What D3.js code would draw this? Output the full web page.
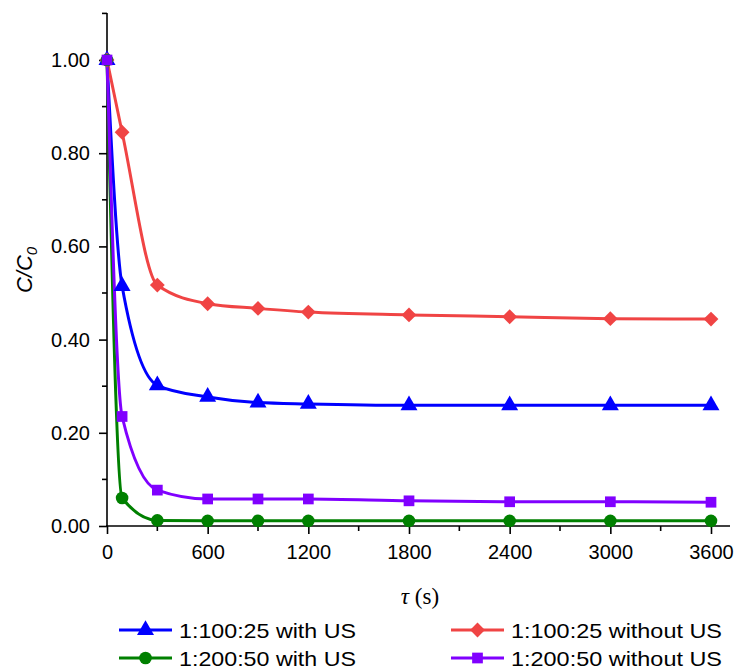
<!DOCTYPE html>
<html><head><meta charset="utf-8">
<script src="https://cdn.jsdelivr.net/npm/d3@7"></script>
<style>body{margin:0;background:#fff;} svg{display:block;}</style>
</head><body>
<svg id="chart" width="739" height="671"></svg>
<script>
const times = [0, 90, 300, 600, 900, 1200, 1800, 2400, 3000, 3600];
const blueWithUS = [1.00, 0.515, 0.302, 0.277, 0.265, 0.262, 0.259, 0.259, 0.259, 0.259];
const redWithoutUS = [1.00, 0.845, 0.517, 0.477, 0.467, 0.459, 0.453, 0.449, 0.445, 0.444];
const greenWithUS = [1.00, 0.060, 0.012, 0.011, 0.011, 0.011, 0.011, 0.011, 0.011, 0.011];
const purpleWithoutUS = [1.00, 0.235, 0.077, 0.058, 0.058, 0.058, 0.054, 0.052, 0.052, 0.051];
const xTicks = [0, 600, 1200, 1800, 2400, 3000, 3600];
const yTicks = [0, 0.2, 0.4, 0.6, 0.8, 1.0];
const seriesNames = ["1:100:25 with US", "1:100:25 without US", "1:200:50 with US", "1:200:50 without US"];

const series = [
  {name: seriesNames[0], values: blueWithUS, color: "#0000ff", sym: d3.symbolTriangle, size: 125, rot: 0},
  {name: seriesNames[1], values: redWithoutUS, color: "#f04444", sym: d3.symbolSquare, size: 110, rot: 45},
  {name: seriesNames[2], values: greenWithUS, color: "#008000", sym: d3.symbolCircle, size: 125, rot: 0},
  {name: seriesNames[3], values: purpleWithoutUS, color: "#8000ff", sym: d3.symbolSquare, size: 115, rot: 0}
];

const FONT = "'Liberation Sans', Arial, sans-serif";
const svg = d3.select("#chart");
const x = d3.scaleLinear().domain([0, 3600]).range([107, 711]);
const y = d3.scaleLinear().domain([0, 1]).range([526, 60]);

const g = svg.append("g");

// axes
const xAxis = d3.axisBottom(x).tickValues(xTicks).tickFormat(d3.format("d")).tickSizeOuter(0).tickSize(8).tickPadding(11);
const gx = g.append("g").attr("transform", "translate(0,526)").call(xAxis);
gx.select(".domain").attr("d", `M${x(0)-1},0H730`);
const xMinor = d3.range(300, 3600, 600);
gx.selectAll(".minor").data(xMinor).enter().append("line").attr("class","minor")
  .attr("x1", d=>x(d)).attr("x2", d=>x(d)).attr("y1",0).attr("y2",5);

const yAxis = d3.axisLeft(y).tickValues(yTicks).tickFormat(d3.format(".2f")).tickSizeOuter(0).tickSize(8).tickPadding(9);
const gy = g.append("g").attr("transform", "translate(107,0)").call(yAxis);
gy.select(".domain").attr("d", `M0,527V13`);
const yMinor = [0.1, 0.3, 0.5, 0.7, 0.9, 1.1];
gy.selectAll(".minor").data(yMinor).enter().append("line").attr("class","minor")
  .attr("y1", d=>y(d)).attr("y2", d=>y(d)).attr("x1",0).attr("x2",-5);

[gx, gy].forEach(a => {
  a.selectAll("path, line").style("stroke", "#000").style("stroke-width", "1.6px");
  a.selectAll("text").style("font-family", FONT).style("font-size", "20px").style("fill", "#000");
});

// axis titles
const yt = svg.append("text").attr("transform", "translate(32,270) rotate(-90)")
  .attr("text-anchor", "middle").style("font-family", FONT)
  .style("font-size", "22px").style("font-style", "italic");
yt.append("tspan").text("C/C");
yt.append("tspan").text("0").style("font-size", "15px").attr("dy", 5);

const xt = svg.append("text").attr("x", 420).attr("y", 604).attr("text-anchor", "middle")
  .style("font-family", "'Liberation Serif', 'Times New Roman', serif").style("font-size", "23px");
xt.append("tspan").text("τ").style("font-style", "italic");
xt.append("tspan").text(" (s)");

// lines
const line = d3.line().x((d,i)=>x(times[i])).y(d=>y(d)).curve(d3.curveMonotoneX);
series.forEach(s => {
  g.append("path").datum(s.values).attr("d", line).attr("fill","none")
    .attr("stroke", s.color).attr("stroke-width", 3);
});
series.forEach(s => {
  g.append("g").selectAll("path").data(s.values).enter().append("path")
    .attr("d", d3.symbol().type(s.sym).size(s.size))
    .attr("transform", (d,i)=>`translate(${x(times[i])},${y(d)}) rotate(${s.rot})`)
    .attr("fill", s.color);
});

// legend
const legPos = [[119, 630], [451, 630], [119, 658], [451, 658]];
const legTextLen = [177, 211, 177, 211];
series.forEach((s, i) => {
  const [lx, ly] = legPos[i];
  const lg = svg.append("g").attr("transform", `translate(${lx},${ly})`);
  lg.append("line").attr("x1",0).attr("x2",53).attr("y1",0).attr("y2",0).attr("stroke", s.color).attr("stroke-width",3);
  lg.append("path").attr("d", d3.symbol().type(s.sym).size(s.size)).attr("transform",`translate(26.5,0) rotate(${s.rot})`).attr("fill", s.color);
  lg.append("text").attr("x", 60).attr("y", 0).attr("dy", "0.36em").text(s.name)
    .attr("textLength", legTextLen[i]).attr("lengthAdjust", "spacingAndGlyphs")
    .style("font-family", FONT).style("font-size", "21px").style("fill","#000");
});
</script>
</body></html>
